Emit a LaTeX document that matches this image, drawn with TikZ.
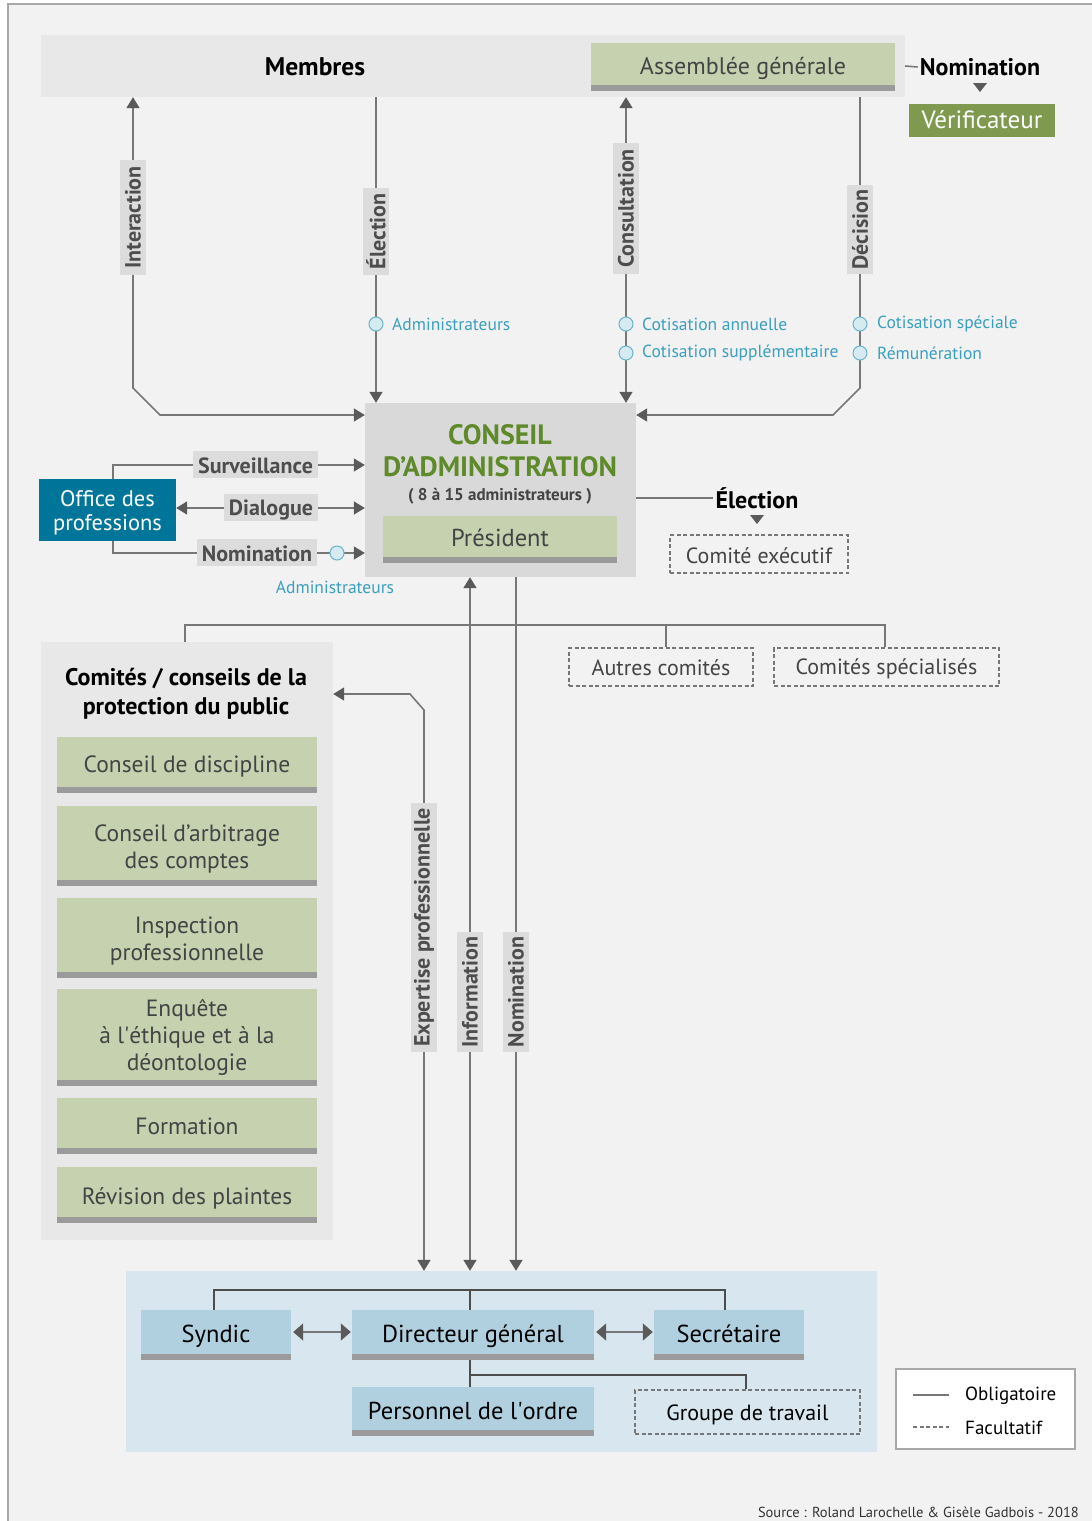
\documentclass[tikz,border=0pt]{standalone}
\usepackage{fontspec}
\setmainfont{PT Sans}[Ligatures=TeXOff]
\usetikzlibrary{arrows.meta,calc}
\definecolor{bgc}{HTML}{F2F2F2}
\definecolor{framec}{HTML}{A8A8A8}
\definecolor{bandc}{HTML}{E8E8E8}
\definecolor{cac}{HTML}{D9D9D9}
\definecolor{lblc}{HTML}{DCDCDC}
\definecolor{sagec}{HTML}{C6D1B0}
\definecolor{barc}{HTML}{9B9B9B}
\definecolor{olivec}{HTML}{7F9A4F}
\definecolor{cagreen}{HTML}{5E8A2A}
\definecolor{tealc}{HTML}{00759A}
\definecolor{panelc}{HTML}{D7E6EF}
\definecolor{sbluec}{HTML}{B0D0E0}
\definecolor{lnc}{HTML}{777777}
\definecolor{tipc}{HTML}{5A5A5A}
\definecolor{txtc}{HTML}{444444}
\definecolor{lbltxt}{HTML}{4D4D4D}
\definecolor{linkc}{HTML}{3A9FC0}
\definecolor{dotfill}{HTML}{D6EAF2}
\definecolor{dotdraw}{HTML}{6AB4CC}
\newcommand\gbar[1]{\fill[barc] (#1.south west) rectangle ([yshift=-6pt]#1.south east);}
% text placed in box #1 with style #2, shifted down by #3 px
\newcommand\boxtext[4]{\node[#2, name=#1-t] at ([yshift=-#3pt]#1.center) {#4};}
\begin{document}
\begin{tikzpicture}[x=1pt,y=-1pt,
  >={Triangle[width=13pt,length=11pt,color=tipc]},
  conn/.style={draw=lnc, line width=1.6pt},
  bx/.style={rectangle, inner sep=0pt, align=center},
  sagebox/.style={bx, fill=sagec, minimum width=260},
  sagetxt/.style={bx, text=txtc, font=\fontsize{23.5}{27}\selectfont},
  bluebox/.style={bx, fill=sbluec, minimum height=44},
  bluetxt/.style={bx, text=black, font=\fontsize{24.5}{28}\selectfont},
  dashbox/.style={bx, draw=lnc, dashed, line width=1.3pt, dash pattern=on 4pt off 2.5pt},
  dashtxt/.style={bx, text=txtc, font=\fontsize{22}{26}\selectfont},
  vlab/.style={bx, fill=lblc, rotate=90, text=lbltxt, font=\fontsize{22}{24}\bfseries, minimum height=26},
  hlab/.style={bx, fill=lblc, minimum height=27},
  hlabtxt/.style={bx, text=lbltxt, font=\fontsize{22}{26}\bfseries},
  dot/.style={circle, draw=dotdraw, fill=dotfill, line width=1pt, minimum size=14, inner sep=0pt},
  link/.style={text=linkc, font=\fontsize{17.5}{20}\selectfont, inner sep=0pt}
]
\useasboundingbox (0,0) rectangle (1092,1521);
\fill[white] (0,0) rectangle (1092,1521);
\fill[bgc] (8,4) rectangle (1092,1521);
\draw[framec, line width=1.5pt] (8,1521) -- (8,4) -- (1092,4);

% ---------- main boxes ----------
\node[bx, fill=bandc, minimum width=864, minimum height=62] (membres) at (473,66) {};
\node[font=\fontsize{25.5}{28}\bfseries, text=black] (membrestxt) at (315,67) {Membres};
\node[bx, fill=sagec, minimum width=304, minimum height=42] (ag) at (743,64) {};
\boxtext{ag}{bx, text=txtc, font=\fontsize{24}{28}\selectfont}{4}{Assemblée générale}
\gbar{ag}
\node[font=\fontsize{24}{28}\bfseries, text=black, inner sep=2pt] (nomT) at (980,67) {Nomination};
\fill[tipc] (973,83) -- (987,83) -- (980,92) -- cycle;
\node[bx, fill=olivec, minimum width=146, minimum height=33, text=white, font=\fontsize{25}{28}\selectfont] (verif) at (982,120) {Vérificateur};

\node[bx, fill=cac, minimum width=271, minimum height=174] (ca) at (500.5,490) {};
\node[bx, text=cagreen, font=\fontsize{28}{32}\bfseries] (catitle) at (500,451) {CONSEIL\\D’ADMINISTRATION};
\node[bx, text=txtc, font=\fontsize{17}{20}\bfseries] (casub) at (500,496) {( 8 à 15 administrateurs )};
\node[bx, fill=sagec, minimum width=234, minimum height=41] (pres) at (500,536.5) {};
\boxtext{pres}{bx, text=txtc, font=\fontsize{24.5}{28}\selectfont}{1}{Président}
\gbar{pres}

\node[font=\fontsize{24}{28}\bfseries, text=black, inner sep=2pt] (elecR) at (757,498) {Élection};
\fill[tipc] (750,515) -- (764,515) -- (757,524) -- cycle;
\node[dashbox, minimum width=178, minimum height=38] (comex) at (759,554) {};
\boxtext{comex}{dashtxt}{2}{Comité exécutif}

\node[bx, fill=tealc, minimum width=137, minimum height=62] (office) at (107.5,510) {};
\boxtext{office}{bx, text=white, font=\fontsize{22.5}{24}\selectfont}{3}{Office des\\professions}

\node[dashbox, minimum width=184, minimum height=38] (autres) at (661,667) {};
\boxtext{autres}{dashtxt}{1}{Autres comités}
\node[dashbox, minimum width=225, minimum height=38] (spec) at (886.5,667) {};
\boxtext{spec}{dashtxt}{2}{Comités spécialisés}

\node[bx, fill=bandc, minimum width=292, minimum height=598] (comites) at (187,941) {};
\node[bx, text=black, font=\fontsize{24}{29}\bfseries] (comtitle) at (186,694) {Comités / conseils de la\\protection du public};
\node[sagebox, minimum height=50] (cdisc) at (187,762) {};
\boxtext{cdisc}{sagetxt}{4}{Conseil de discipline}
\gbar{cdisc}
\node[sagebox, minimum height=74] (carb) at (187,843) {};
\boxtext{carb}{sagetxt}{6}{Conseil d’arbitrage\\des comptes}
\gbar{carb}
\node[sagebox, minimum height=74] (insp) at (187,935) {};
\boxtext{insp}{sagetxt}{6}{Inspection\\professionnelle}
\gbar{insp}
\node[sagebox, minimum height=91] (enq) at (187,1034.5) {};
\boxtext{enq}{sagetxt}{3}{Enquête\\à l\textquotesingle éthique et à la\\déontologie}
\gbar{enq}
\node[sagebox, minimum height=50] (form) at (187,1123) {};
\boxtext{form}{sagetxt}{3}{Formation}
\gbar{form}
\node[sagebox, minimum height=50] (rev) at (187,1192) {};
\boxtext{rev}{sagetxt}{6}{Révision des plaintes}
\gbar{rev}

\node[bx, fill=panelc, minimum width=751, minimum height=181] (panel) at (501.5,1361.5) {};
\node[bluebox, minimum width=150] (syndic) at (216,1332) {};
\boxtext{syndic}{bluetxt}{4}{Syndic}
\gbar{syndic}
\node[bluebox, minimum width=242] (dg) at (473,1332) {};
\boxtext{dg}{bluetxt}{4}{Directeur général}
\gbar{dg}
\node[bluebox, minimum width=150] (secr) at (729,1332) {};
\boxtext{secr}{bluetxt}{2}{Secrétaire}
\gbar{secr}
\node[bluebox, minimum width=242, minimum height=43] (pers) at (473,1408.5) {};
\boxtext{pers}{bluetxt}{2}{Personnel de l\textquotesingle ordre}
\gbar{pers}
\node[dashbox, minimum width=225, minimum height=44] (grp) at (747.5,1412) {};
\boxtext{grp}{bx, text=black, font=\fontsize{22}{26}\selectfont}{3}{Groupe de travail}

\node[bx, fill=white, draw=framec, line width=1.2pt, minimum width=179, minimum height=80] (legend) at (985.5,1409) {};
\node[anchor=west, inner sep=0pt, text=black, font=\fontsize{19}{22}\selectfont] (lobl) at (965,1396) {Obligatoire};
\node[anchor=west, inner sep=0pt, text=black, font=\fontsize{19}{22}\selectfont] (lfac) at (965,1428) {Facultatif};
\coordinate (l1a) at (913,1395); \coordinate (l2a) at (913,1427);
\draw[lnc, line width=1.3pt] (l1a) -- (949,1395);
\draw[lnc, line width=1.3pt, dash pattern=on 4pt off 2.5pt] (l2a) -- (949,1427);

\node[anchor=east, inner sep=0pt, text=black!80, font=\fontsize{14.5}{17}\selectfont] (source) at (1079,1512) {Source : Roland Larochelle \& Gisèle Gadbois - 2018};

% ---------- coordinates ----------
\coordinate (xI) at (133,0);
\coordinate (xE) at (376,0);
\coordinate (xC) at (626,0);
\coordinate (xD) at (860,0);
\coordinate (xO) at (113,0);
\coordinate (xX) at (424,0);
\coordinate (xInf) at (470,0);
\coordinate (xN) at (516,0);

% ---------- connectors (top) ----------
\draw[conn, <->] (xI |- membres.south) -- (133,388) -- (160,415) -- (ca.west |- 0,415);
\draw[conn, ->] (xE |- membres.south) -- (xE |- ca.north);
\draw[conn, <->] (xC |- membres.south) -- (xC |- ca.north);
\draw[conn, ->] (xD |- membres.south) -- (860,388) -- (833,415) -- (ca.east |- 0,415);
\draw[conn] (membres.east) -- (nomT.west);

% ---------- left connectors ----------
\draw[conn, ->] (xO |- office.north) -- (113,465) -- (ca.west |- 0,465);
\draw[conn, <->] (office.east |- 0,508) -- (ca.west |- 0,508);
\draw[conn, ->] (xO |- office.south) -- (113,553) -- (ca.west |- 0,553);
\draw[conn] (ca.east |- 0,498) -- (elecR.west);

% ---------- committee tree ----------
\draw[conn] (comites.north -| 185,0) -- (185,625) -- (885,625) -- (spec.north -| 885,0);
\draw[conn] (666,625) -- (autres.north -| 666,0);

% ---------- bottom connectors ----------
\draw[conn, <->] (xInf |- ca.south) -- (xInf |- panel.north);
\draw[conn, ->] (xN |- ca.south) -- (xN |- panel.north);
\draw[conn, <->] (xX |- panel.north) -- (424,710) -- (410,694) -- (comites.east |- 0,694);

% ---------- bottom panel tree ----------
\draw[conn, line width=1.4pt, draw=black!70] (syndic.north -| 214,0) -- (214,1290) -- (725,1290) -- (secr.north -| 725,0);
\draw[conn, line width=1.4pt, draw=black!70] (470,1290) -- (dg.north -| 470,0);
\draw[conn, line width=1.4pt, draw=black!70] ([yshift=-6pt]dg.south -| 470,0) -- (pers.north -| 470,0);
\draw[conn, line width=1.4pt, draw=black!70] (470,1375) -- (746,1375) -- (grp.north -| 746,0);
\draw[conn, <->, >={Triangle[width=17pt,length=10pt,color=tipc]}] ([xshift=2pt]syndic.east) -- ([xshift=-1pt]dg.west);
\draw[conn, <->, >={Triangle[width=17pt,length=10pt,color=tipc]}] ([xshift=2pt]dg.east) -- ([xshift=-1pt]secr.west);

% ---------- labels on connectors ----------
\node[vlab, minimum width=115] (vInt) at (133,217.5) {Interaction};
\node[vlab, minimum width=87] (vEl) at (376,231.5) {Élection};
\node[vlab, minimum width=131] (vCons) at (626,208.5) {Consultation};
\node[vlab, minimum width=89] (vDec) at (860,229.5) {Décision};
\node[vlab, minimum width=249] (vExp) at (424,927.5) {Expertise professionnelle};
\node[vlab, minimum width=120] (vInf) at (470,992) {Information};
\node[vlab, minimum width=120] (vNom) at (516,992) {Nomination};

\node[hlab, minimum width=125] (hSurv) at (255.5,464.5) {};
\boxtext{hSurv}{hlabtxt}{1}{Surveillance}
\node[hlab, minimum width=94] (hDia) at (271,507.5) {};
\boxtext{hDia}{hlabtxt}{3}{Dialogue}
\node[hlab, minimum width=120] (hNom) at (257,552.5) {};
\boxtext{hNom}{hlabtxt}{1}{Nomination}

\node[dot] (d1) at (376,324) {};
\node[dot] (d2) at (626,324) {};
\node[dot] (d3) at (626,353) {};
\node[dot] (d4) at (860,324) {};
\node[dot] (d5) at (860,353) {};
\node[dot] (d6) at (337,553) {};
\node[link, anchor=west] (t1) at (392,324) {Administrateurs};
\node[link, anchor=west] (t2) at (642,324) {Cotisation annuelle};
\node[link, anchor=west] (t3) at (642,353) {Cotisation supplémentaire};
\node[link, anchor=west] (t4) at (877,324) {Cotisation spéciale};
\node[link, anchor=west] (t5) at (877,353) {Rémunération};
\node[link] (t6) at (335,587) {Administrateurs};
\end{tikzpicture}
\end{document}
